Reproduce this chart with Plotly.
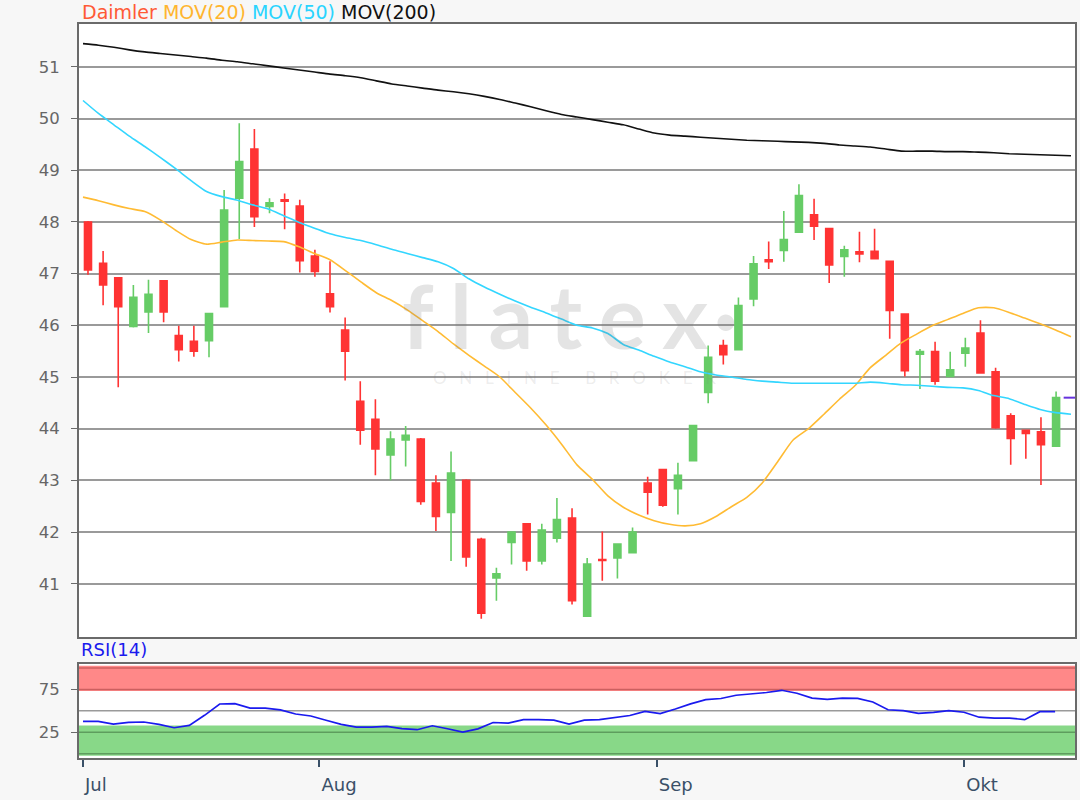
import plotly.graph_objects as go

# ---------------- data ----------------
opens = [48.00, 47.20, 46.92, 45.98, 46.26, 46.86, 45.80, 45.69, 45.70, 46.36,
         48.46, 49.41, 48.30, 48.43, 48.31, 47.34, 46.61, 45.91, 44.53, 44.18,
         43.49, 43.78, 43.80, 42.95, 42.38, 43.00, 41.86, 41.11, 41.80, 42.16,
         41.44, 41.88, 42.27, 40.37, 41.47, 41.50, 41.60, 42.95, 43.21, 42.84,
         43.38, 44.70, 45.61, 45.53, 46.51, 47.27, 47.45, 47.80, 48.14, 47.87,
         47.33, 47.42, 47.43, 47.24, 46.22, 45.44, 45.49, 45.01, 45.46, 45.85,
         45.10, 44.25, 43.97, 43.94, 43.66]
highs = [48.02, 47.44, 46.93, 46.78, 46.88, 46.87, 45.99, 45.99, 46.23, 48.62,
         49.91, 49.80, 48.46, 48.55, 48.43, 47.46, 47.24, 46.15, 44.92, 44.57,
         43.95, 44.05, 43.82, 43.10, 43.56, 43.02, 41.89, 41.31, 42.00, 42.17,
         42.16, 42.66, 42.46, 41.50, 42.01, 41.78, 42.09, 43.07, 43.22, 43.34,
         44.06, 45.61, 45.72, 46.54, 47.34, 47.62, 48.21, 48.73, 48.45, 47.89,
         47.54, 47.81, 47.87, 47.25, 46.23, 45.54, 45.68, 45.49, 45.76, 46.10,
         45.18, 44.30, 43.98, 44.22, 44.72]
lows = [46.98, 46.39, 44.80, 45.96, 45.85, 46.06, 45.30, 45.39, 45.38, 46.35,
        47.67, 47.90, 48.17, 47.86, 47.02, 46.94, 46.25, 44.93, 43.69, 43.10,
        43.00, 43.27, 42.53, 42.02, 41.44, 41.33, 40.32, 40.67, 41.37, 41.25,
        41.37, 41.80, 40.60, 40.36, 41.06, 41.10, 41.59, 42.34, 42.49, 42.34,
        43.37, 44.49, 45.24, 45.52, 46.37, 47.09, 47.23, 47.79, 47.65, 46.82,
        46.94, 47.22, 47.28, 45.74, 45.01, 44.77, 44.85, 45.00, 45.20, 45.07,
        44.00, 43.30, 43.42, 42.91, 43.65]
closes = [47.07, 46.78, 46.36, 46.54, 46.60, 46.26, 45.53, 45.50, 46.23, 48.23,
          49.17, 48.10, 48.37, 48.40, 47.25, 47.04, 46.36, 45.50, 43.97, 43.61,
          43.80, 43.87, 42.59, 42.30, 43.14, 41.52, 40.43, 41.19, 42.00, 41.44,
          42.04, 42.24, 40.67, 41.38, 41.45, 41.77, 42.00, 42.77, 42.52, 43.10,
          44.06, 45.38, 45.43, 46.38, 47.19, 47.23, 47.66, 48.51, 47.92, 47.17,
          47.46, 47.38, 47.29, 46.29, 45.12, 45.49, 44.92, 45.14, 45.56, 45.08,
          44.02, 43.81, 43.91, 43.69, 44.60]

mov20 = [48.48, 48.41, 48.33, 48.26, 48.20, 48.04, 47.84, 47.66, 47.57, 47.61,
         47.65, 47.64, 47.63, 47.62, 47.52, 47.39, 47.27, 47.06, 46.84, 46.63,
         46.48, 46.30, 46.09, 45.88, 45.64, 45.42, 45.21, 45.00, 44.70, 44.40,
         44.07, 43.70, 43.30, 43.02, 42.70, 42.48, 42.33, 42.22, 42.15, 42.12,
         42.16, 42.30, 42.49, 42.67, 42.95, 43.36, 43.78, 44.00, 44.28, 44.57,
         44.83, 45.18, 45.42, 45.66, 45.83, 45.99, 46.11, 46.23, 46.34, 46.34,
         46.25, 46.14, 46.03, 45.91, 45.78]
mov50 = [50.35, 50.10, 49.88, 49.66, 49.46, 49.25, 49.03, 48.80, 48.59, 48.49,
         48.42, 48.33, 48.25, 48.12, 47.99, 47.88, 47.77, 47.70, 47.64, 47.56,
         47.47, 47.39, 47.31, 47.23, 47.10, 46.90, 46.74, 46.60, 46.47, 46.35,
         46.24, 46.12, 46.00, 45.95, 45.84, 45.63, 45.52, 45.40, 45.29, 45.20,
         45.10, 45.04, 45.00, 44.95, 44.92, 44.90, 44.88, 44.88, 44.88, 44.88,
         44.88, 44.90, 44.88, 44.85, 44.84, 44.82, 44.80, 44.79, 44.74, 44.64,
         44.58, 44.47, 44.37, 44.31, 44.28]
mov200 = [51.45, 51.42, 51.38, 51.33, 51.29, 51.26, 51.23, 51.20, 51.17, 51.13,
          51.10, 51.06, 51.02, 50.98, 50.94, 50.90, 50.86, 50.83, 50.79, 50.73,
          50.67, 50.63, 50.59, 50.55, 50.52, 50.48, 50.43, 50.37, 50.30, 50.23,
          50.15, 50.08, 50.03, 49.98, 49.93, 49.88, 49.80, 49.72, 49.68, 49.66,
          49.64, 49.62, 49.60, 49.58, 49.57, 49.56, 49.55, 49.54, 49.52, 49.49,
          49.47, 49.45, 49.41, 49.37, 49.37, 49.37, 49.36, 49.36, 49.35, 49.34,
          49.32, 49.31, 49.30, 49.29, 49.28]
rsi14 = [37.7, 37.7, 34.6, 36.5, 37.0, 34.3, 30.3, 33.1, 44.8, 58.0,
         58.4, 53.3, 53.3, 51.2, 46.3, 44.0, 39.1, 34.3, 31.0, 31.0,
         31.9, 29.2, 28.0, 32.6, 29.1, 25.3, 29.0, 36.4, 35.8, 39.7,
         39.7, 39.2, 34.5, 39.1, 39.7, 42.0, 44.6, 49.3, 46.7, 52.1,
         58.2, 63.0, 64.4, 68.2, 69.6, 71.4, 74.0, 70.5, 64.8, 63.5,
         64.9, 64.5, 60.3, 51.3, 50.3, 47.0, 48.3, 50.3, 48.4, 42.6,
         41.6, 41.6, 39.7, 49.0, 49.0]

month_labels = ["Jul", "Aug", "Sep", "Okt"]
month_tick_pos = [0.0, 15.57, 37.78, 58.02]

price_ticks = [41, 42, 43, 44, 45, 46, 47, 48, 49, 50, 51]
rsi_ticks = [25, 75]
rsi_red_lines = [75, 100]
rsi_green_lines = [0, 25]
rsi_mid_line = [50]

idx = list(range(len(closes)))

# ---------------- style ----------------
RED = "#ff3333"
GREEN = "#66cc66"
C20 = "#ffbb33"
C50 = "#33d6ff"
C200 = "#111111"
GRID = "#9a9a9a"
FRAME = "#6a6a6a"
FONT = "DejaVu Sans, Verdana, sans-serif"

fig = go.Figure()

fig.add_trace(go.Candlestick(
    x=idx, open=opens, high=highs, low=lows, close=closes,
    xaxis="x", yaxis="y",
    increasing=dict(fillcolor=GREEN, line=dict(color=GREEN, width=1.6)),
    decreasing=dict(fillcolor=RED, line=dict(color=RED, width=1.6)),
    whiskerwidth=0, showlegend=False, hoverinfo="skip",
))

for vals, col in [(mov20, C20), (mov50, C50), (mov200, C200)]:
    fig.add_trace(go.Scatter(
        x=idx, y=vals, mode="lines", xaxis="x2", yaxis="y",
        line=dict(color=col, width=1.6, shape="spline", smoothing=0.6),
        showlegend=False, hoverinfo="skip",
    ))

# last price marker
fig.add_trace(go.Scatter(
    x=[idx[-1] + 0.5, idx[-1] + 1.4], y=[closes[-1], closes[-1]],
    mode="lines", xaxis="x", yaxis="y",
    line=dict(color="#6633dd", width=2), showlegend=False, hoverinfo="skip",
))

fig.add_trace(go.Scatter(
    x=idx, y=rsi14, mode="lines", xaxis="x3", yaxis="y2",
    line=dict(color="#1a1aee", width=1.7),
    showlegend=False, hoverinfo="skip",
))

shapes = []
shapes.append(dict(type="rect", xref="x3 domain", yref="y2", x0=0, x1=1, y0=73.2, y1=102.6,
                   fillcolor="#ff8888", line=dict(width=0), layer="below"))
shapes.append(dict(type="rect", xref="x3 domain", yref="y2", x0=0, x1=1, y0=-2.4, y1=33.0,
                   fillcolor="#88d888", line=dict(width=0), layer="below"))
for v in rsi_red_lines:
    shapes.append(dict(type="line", xref="x3 domain", yref="y2", x0=0, x1=1, y0=v, y1=v,
                       line=dict(color="#cc5f5f", width=1.5), layer="below"))
for v in rsi_green_lines:
    shapes.append(dict(type="line", xref="x3 domain", yref="y2", x0=0, x1=1, y0=v, y1=v,
                       line=dict(color="#5e9d5e", width=1.5), layer="below"))
for v in rsi_mid_line:
    shapes.append(dict(type="line", xref="x3 domain", yref="y2", x0=0, x1=1, y0=v, y1=v,
                       line=dict(color=GRID, width=1.5), layer="below"))

GAP = "\u2009\u200a"
annotations = [
    dict(xref="paper", yref="paper", x=0.001, y=1.0, yanchor="bottom", xanchor="left",
         yshift=-1, showarrow=False, align="left",
         text=("<span style='color:#ff5a36'>Daimler</span> "
               "<span style='color:#ffb52e'>MOV(20)</span> "
               "<span style='color:#2ad4ff'>MOV(50)</span> "
               "<span style='color:#111111'>MOV(200)</span>"),
         font=dict(family=FONT, size=19)),
    dict(xref="paper", yref="paper", x=0.0, y=0.1305, yanchor="bottom", xanchor="left",
         showarrow=False, text="RSI(14)",
         font=dict(family=FONT, size=18, color="#1a1aee")),
    dict(xref="paper", yref="paper", x=0.493, y=0.603, xanchor="center", yanchor="middle",
         showarrow=False, text=GAP.join(list("flatex")) + "\u200a\u00b7",
         font=dict(family="Lato, sans-serif", size=88, weight=700,
                   color="rgba(120,120,120,0.2)")),
    dict(xref="paper", yref="paper", x=0.497, y=0.518, xanchor="center", yanchor="middle",
         showarrow=False,
         text="O\u2003N\u2003L\u2003I\u2003N\u2003E\u2003\u2003B\u2003R\u2003O\u2003K\u2003E\u2003R",
         font=dict(family="Lato, sans-serif", size=17, color="rgba(120,120,120,0.15)")),
]

fig.update_layout(
    width=1080, height=800,
    margin=dict(l=79, r=3, t=24, b=42),
    paper_bgcolor="#f7f7f7", plot_bgcolor="#ffffff",
    boxgap=0.34,
    shapes=shapes, annotations=annotations,
    font=dict(family=FONT),
    xaxis=dict(domain=[0, 1], anchor="y", range=[-0.594, 65.25],
               showgrid=False, showticklabels=False, ticks="", zeroline=False,
               showline=True, mirror=True, linecolor=FRAME, linewidth=2,
               rangeslider=dict(visible=False), fixedrange=True),
    xaxis2=dict(overlaying="x", anchor="y", range=[-0.259, 64.26], visible=False,
                fixedrange=True),
    yaxis=dict(domain=[0.1649, 1.0], anchor="x", range=[39.97, 51.83],
               tickvals=price_ticks, ticktext=[str(v) for v in price_ticks],
               showgrid=True, gridcolor=GRID, gridwidth=1.5,
               ticks="outside", ticklen=6, tickcolor=FRAME, tickwidth=1,
               ticklabelstandoff=8,
               tickfont=dict(family=FONT, size=16.5, color="#666666"),
               showline=True, mirror=True, linecolor=FRAME, linewidth=2,
               zeroline=False, fixedrange=True),
    xaxis3=dict(domain=[0, 1], anchor="y2", range=[-0.263, 65.31],
                tickvals=month_tick_pos, ticktext=month_labels,
                ticks="outside", ticklen=7, tickcolor="#3a5068", tickwidth=2,
                ticklabelposition="outside right", ticklabelstandoff=9,
                tickfont=dict(family=FONT, size=18, color="#3a5068"),
                showgrid=False, zeroline=False,
                showline=True, mirror=True, linecolor=FRAME, linewidth=2,
                fixedrange=True),
    yaxis2=dict(domain=[0, 0.1281], anchor="x3", range=[-5, 104.7],
                tickvals=rsi_ticks, ticktext=[str(v) for v in rsi_ticks],
                showgrid=False,
                ticks="outside", ticklen=6, tickcolor=FRAME, tickwidth=1,
                ticklabelstandoff=8,
                tickfont=dict(family=FONT, size=16.5, color="#666666"),
                showline=True, mirror=True, linecolor=FRAME, linewidth=2,
                zeroline=False, fixedrange=True),
)

fig.write_html("out.html", config={"displayModeBar": False},
               post_script="document.body.style.margin='0';")
